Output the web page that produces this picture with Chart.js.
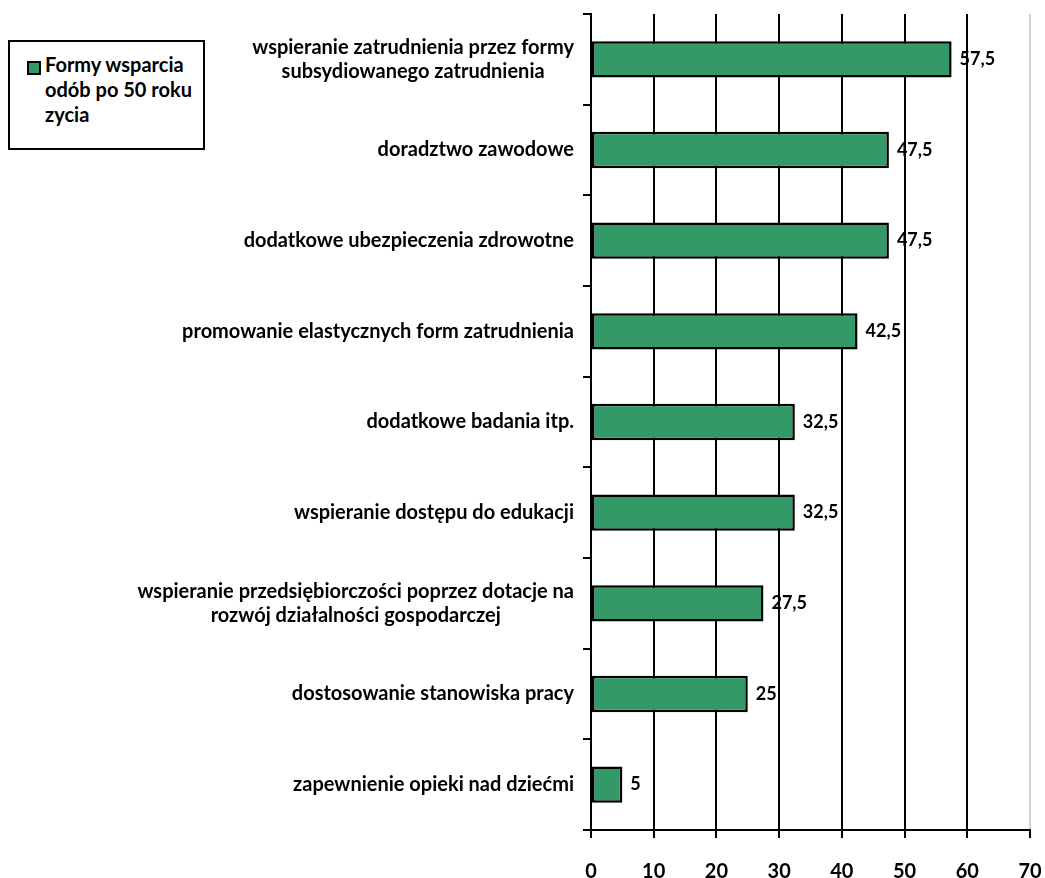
<!DOCTYPE html>
<html lang="pl">
<head>
    <meta charset="UTF-8">
    <title>Formy wsparcia osób po 50 roku życia</title>
    <script src="https://cdn.jsdelivr.net/npm/chart.js"></script>
    <style>
        body {
            margin: 0;
            padding: 0;
            background: #ffffff;
        }
        .wrap {
            position: relative;
            width: 1045px;
            height: 878px;
        }
        #legendBox {
            position: absolute;
            left: 8px;
            top: 40px;
            width: 193px;
            height: 106px;
            border: 2px solid #000;
            background: #fff;
            font-family: 'Lato', 'Liberation Sans', sans-serif;
            font-weight: bold;
            font-size: 20px;
            line-height: 25px;
            color: #000;
        }
        #legendBox .swatch {
            position: absolute;
            left: 17px;
            top: 19px;
            width: 10px;
            height: 10px;
            border: 2px solid #000;
        }
        #legendBox .text {
            position: absolute;
            left: 35px;
            top: 10px;
        }
    </style>
</head>
<body>
    <div class="wrap">
        <canvas id="barChart" width="1045" height="878"></canvas>
        <!-- legend for the single series -->
        <div id="legendBox"><div class="swatch"></div><div class="text"></div></div>
    </div>

    <script>
        const categories = [
            ['wspieranie zatrudnienia przez formy', 'subsydiowanego zatrudnienia'],
            'doradztwo zawodowe',
            'dodatkowe ubezpieczenia zdrowotne',
            'promowanie elastycznych form zatrudnienia',
            'dodatkowe badania itp.',
            'wspieranie dostępu do edukacji',
            ['wspieranie przedsiębiorczości poprzez dotacje na', 'rozwój działalności gospodarczej'],
            'dostosowanie stanowiska pracy',
            'zapewnienie opieki nad dziećmi'
        ];
        const values = [57.5, 47.5, 47.5, 42.5, 32.5, 32.5, 27.5, 25, 5];
        const seriesName = ['Formy wsparcia', 'odób po 50 roku', 'zycia'];
        const xTicks = [0, 10, 20, 30, 40, 50, 60, 70];

        const barColor = '#339966';
        const fontFamily = "'Lato', 'Liberation Sans', sans-serif";

        // legend text + swatch
        document.querySelector('#legendBox .swatch').style.background = barColor;
        document.querySelector('#legendBox .text').innerHTML = seriesName.join('<br>');

        // category labels: lines centred on each other, block right-aligned next to the axis
        const categoryLabels = {
            id: 'categoryLabels',
            afterDraw(chart) {
                const ctx = chart.ctx;
                const yScale = chart.scales.y;
                const right = chart.chartArea.left - 17;
                const lineH = 24;
                ctx.save();
                ctx.font = 'bold 20px ' + fontFamily;
                ctx.fillStyle = '#000';
                ctx.textAlign = 'center';
                ctx.textBaseline = 'middle';
                chart.data.labels.forEach(function (label, i) {
                    const lines = Array.isArray(label) ? label : [label];
                    const w = Math.max.apply(null, lines.map(l => ctx.measureText(l).width));
                    const cx = right - w / 2;
                    const cy = yScale.getPixelForValue(i);
                    lines.forEach(function (line, j) {
                        ctx.fillText(line, cx, cy + (j - (lines.length - 1) / 2) * lineH);
                    });
                });
                ctx.restore();
            }
        };

        // value labels at the end of each bar, decimal comma
        const valueLabels = {
            id: 'valueLabels',
            afterDatasetsDraw(chart) {
                const ctx = chart.ctx;
                const meta = chart.getDatasetMeta(0);
                ctx.save();
                ctx.font = 'bold 18px ' + fontFamily;
                ctx.fillStyle = '#000';
                ctx.textAlign = 'left';
                ctx.textBaseline = 'middle';
                meta.data.forEach(function (bar, i) {
                    const txt = String(values[i]).replace('.', ',');
                    ctx.fillText(txt, bar.x + 8, bar.y);
                });
                ctx.restore();
            }
        };

        const ctx = document.getElementById('barChart').getContext('2d');
        const barChart = new Chart(ctx, {
            type: 'bar',
            data: {
                labels: categories,
                datasets: [{
                    label: seriesName.join(' '),
                    data: values,
                    backgroundColor: barColor,
                    borderColor: '#000',
                    borderWidth: 2.5,
                    borderSkipped: false,
                    categoryPercentage: 1.0,
                    barPercentage: 0.4
                }]
            },
            options: {
                indexAxis: 'y',
                responsive: false,
                animation: false,
                layout: {
                    padding: { top: 14, right: 0, left: 0, bottom: 0 }
                },
                plugins: {
                    legend: { display: false },
                    tooltip: { enabled: false }
                },
                scales: {
                    x: {
                        min: xTicks[0],
                        max: xTicks[xTicks.length - 1],
                        afterBuildTicks(scale) {
                            scale.ticks = xTicks.map(v => ({ value: v }));
                        },
                        afterFit(scale) {
                            scale.height = 48;
                            scale.paddingLeft = 0;
                            scale.paddingRight = 15;
                        },
                        grid: {
                            color: c => (c.tick && c.tick.value === 70) ? '#d0d0d0' : '#000',
                            lineWidth: 2,
                            tickColor: '#000',
                            tickLength: 8
                        },
                        border: { color: '#000', width: 2 },
                        ticks: {
                            color: '#000',
                            padding: 22,
                            maxRotation: 0,
                            font: { family: fontFamily, size: 20, weight: 'bold' }
                        }
                    },
                    y: {
                        afterFit(scale) {
                            scale.width = 591;
                        },
                        grid: {
                            drawOnChartArea: false,
                            drawTicks: true,
                            tickLength: 8,
                            color: '#000',
                            lineWidth: 2
                        },
                        border: { color: '#000', width: 2 },
                        ticks: { display: false }
                    }
                }
            },
            plugins: [categoryLabels, valueLabels]
        });
    </script>
</body>
</html>
